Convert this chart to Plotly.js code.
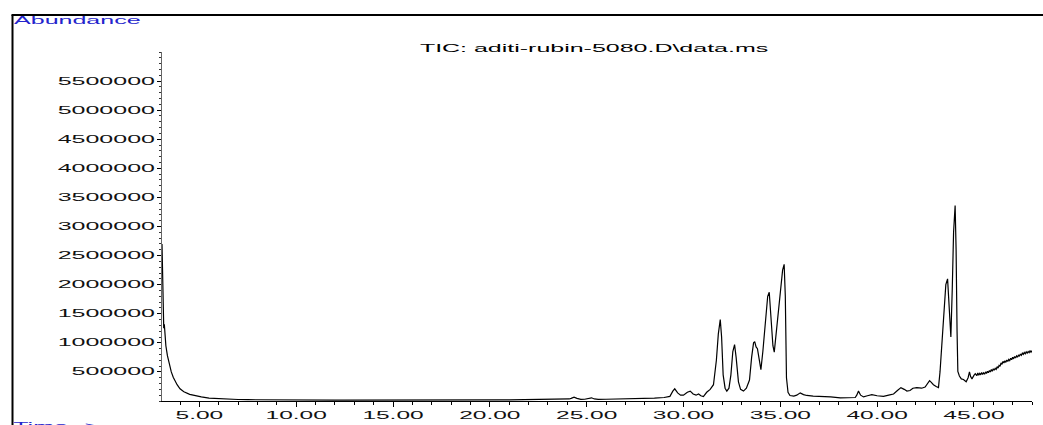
<!DOCTYPE html>
<html>
<head>
<meta charset="utf-8">
<script src="https://cdn.plot.ly/plotly-3.0.1.min.js"></script>
<style>
  html, body { margin: 0; padding: 0; background: #fff; }
  #chart { width: 1043px; height: 425px; }
</style>
</head>
<body>
<div id="chart"></div>
<script>
// Total ion chromatogram: retention time (min) and abundance (counts)
const retentionTime = [
  3.07, 3.10, 3.13, 3.16, 3.19, 3.22, 3.27, 3.35, 3.45, 3.55, 3.65, 3.75, 3.85, 4.00, 4.20, 4.50, 4.80, 5.10, 5.50, 6.00, 6.60,
  7.0, 7.5, 8.0, 8.5, 9.0, 9.5, 10.0, 10.5, 11.0, 11.5, 12.0, 12.5, 13.0, 13.5, 14.0, 14.5, 15.0, 15.5, 16.0, 16.5, 17.0, 17.5,
  18.0, 18.5, 19.0, 19.5, 19.8, 20.0, 20.2, 20.5, 21.0, 21.5, 22.0, 22.5, 23.0, 23.5, 23.9,
  24.1, 24.2, 24.35, 24.5, 24.7, 24.9, 25.1, 25.25, 25.4, 25.6, 26.0, 26.5, 27.0, 27.5, 28.0, 28.5, 29.0, 29.3,
  29.45, 29.55, 29.7, 29.85, 30.0, 30.2, 30.35, 30.5, 30.65, 30.78, 30.9, 31.03, 31.2, 31.38, 31.55, 31.7, 31.8,
  31.9, 31.97, 32.05, 32.15, 32.24, 32.35, 32.45, 32.55, 32.64, 32.72, 32.84, 32.95, 33.1, 33.25, 33.41, 33.52,
  33.62, 33.68, 33.75, 33.82, 33.92, 34.0, 34.1, 34.22, 34.35, 34.43, 34.52, 34.62, 34.69, 34.8, 34.91, 35.02,
  35.12, 35.2, 35.26, 35.32, 35.4, 35.5, 35.7, 35.85, 36.03, 36.2, 36.37, 36.7, 37.0, 37.2, 37.6, 38.1, 38.5,
  38.87, 38.95, 39.04, 39.15, 39.3, 39.5, 39.73, 40.0, 40.33, 40.6, 40.85, 41.05, 41.23, 41.4, 41.54, 41.7,
  41.85, 42.05, 42.3, 42.48, 42.6, 42.71, 42.8, 42.91, 43.05, 43.17, 43.25, 43.35, 43.45, 43.55, 43.64, 43.7,
  43.77, 43.81, 43.88, 43.95, 44.03, 44.08, 44.13, 44.17, 44.25, 44.35, 44.46, 44.6, 44.7, 44.77, 44.83, 44.9,
  45.0, 45.07, 45.15, 45.2, 45.25, 45.3, 45.35, 45.4, 45.45, 45.5, 45.55, 45.6, 45.65, 45.7, 45.75, 45.8, 45.85,
  45.9, 45.95, 46.0, 46.05, 46.1, 46.15, 46.2, 46.25, 46.3, 46.35, 46.4, 46.45, 46.5, 46.55, 46.6, 46.65, 46.7,
  46.75, 46.8, 46.85, 46.9, 46.95, 47.0, 47.05, 47.1, 47.15, 47.2, 47.25, 47.3, 47.35, 47.4, 47.45, 47.5, 47.55,
  47.6, 47.65, 47.7, 47.75, 47.8, 47.85, 47.9, 47.95, 48.0
];
const abundance = [
  2700000, 2050000, 1550000, 1250000, 1320000, 1100000, 950000, 780000, 620000, 500000, 410000, 340000, 280000, 210000, 160000, 115000, 90000, 70000, 50000, 38000, 30000,
  26000, 22000, 20000, 18000, 19000, 17000, 18000, 16000, 17000, 15000, 16000, 15000, 16000, 14000, 15000, 16000, 14000, 15000, 16000, 14000, 15000, 16000,
  15000, 17000, 16000, 18000, 22000, 28000, 24000, 19000, 18000, 19000, 20000, 19000, 21000, 22000, 24000,
  35000, 45000, 65000, 45000, 28000, 30000, 50000, 55000, 35000, 28000, 30000, 32000, 35000, 40000, 45000, 50000, 60000, 80000,
  170000, 210000, 140000, 100000, 100000, 150000, 170000, 120000, 100000, 120000, 90000, 75000, 150000, 200000, 280000, 700000, 1150000,
  1400000, 1100000, 450000, 220000, 170000, 220000, 450000, 850000, 970000, 750000, 330000, 200000, 170000, 220000, 360000, 750000,
  1000000, 1020000, 930000, 900000, 650000, 540000, 850000, 1350000, 1800000, 1870000, 1500000, 950000, 840000, 1200000, 1520000, 1900000,
  2250000, 2350000, 1800000, 400000, 150000, 95000, 85000, 100000, 140000, 110000, 95000, 85000, 82000, 80000, 70000, 55000, 55000,
  60000, 100000, 170000, 100000, 70000, 90000, 110000, 90000, 80000, 100000, 120000, 180000, 230000, 200000, 170000, 180000,
  220000, 230000, 220000, 240000, 300000, 350000, 320000, 280000, 250000, 230000, 500000, 1060000, 1600000, 2000000, 2100000, 1800000,
  1300000, 1100000, 1900000, 2900000, 3360000, 2600000, 1200000, 510000, 430000, 380000, 370000, 330000, 400000, 500000, 420000, 380000,
  440000, 470000, 435000, 480000, 445000, 475000, 450000, 490000, 455000, 485000, 460000, 500000, 475000, 510000, 485000, 525000, 500000,
  540000, 512000, 555000, 528000, 562000, 545000, 590000, 565000, 612000, 595000, 655000, 630000, 680000, 655000, 690000, 665000, 705000,
  680000, 715000, 695000, 735000, 710000, 752000, 725000, 765000, 740000, 775000, 752000, 792000, 768000, 808000, 785000, 822000, 800000,
  835000, 812000, 845000, 822000, 852000, 832000, 862000, 840000, 865000
];
const yTickValues = [500000, 1000000, 1500000, 2000000, 2500000, 3000000, 3500000, 4000000, 4500000, 5000000, 5500000];
const xTickValues = [5, 10, 15, 20, 25, 30, 35, 40, 45];
const chartTitle = 'TIC: aditi-rubin-5080.D\\data.ms';

const labelBlue = '#2424cc';
const font = { family: 'Liberation Sans, Arial, sans-serif', size: 10, color: '#111' };

const trace = {
  x: retentionTime,
  y: abundance,
  type: 'scatter',
  mode: 'lines',
  line: { color: '#000', width: 1.2 },
  hoverinfo: 'skip'
};

const layout = {
  width: 1043,
  height: 425,
  margin: { l: 162, r: 11, t: 52, b: 24, pad: 0 },
  paper_bgcolor: '#fff',
  plot_bgcolor: '#fff',
  showlegend: false,
  font: font,
  title: {
    text: chartTitle,
    font: { family: font.family, size: 11, color: '#000' },
    x: 0.4966, xref: 'paper', xanchor: 'center',
    y: 1 - 48 / 425, yref: 'container', yanchor: 'middle'
  },
  xaxis: {
    range: [3.07, 48.0],
    tickvals: xTickValues,
    tickformat: '.2f',
    ticks: 'outside', ticklen: 5, tickwidth: 1, tickcolor: '#000',
    showline: true, linecolor: '#000', linewidth: 1,
    showgrid: false, zeroline: false,
    tickfont: font,
    minor: { dtick: 1, ticks: 'outside', ticklen: 3, tickcolor: '#000', tickwidth: 1, showgrid: false }
  },
  yaxis: {
    range: [0, 6000000],
    tickvals: yTickValues,
    tickformat: 'd',
    ticks: 'outside', ticklen: 4, tickwidth: 1, tickcolor: '#000',
    showline: true, linecolor: '#666', linewidth: 1,
    showgrid: false, zeroline: false,
    tickfont: font,
    minor: { dtick: 100000, ticks: 'outside', ticklen: 2, tickcolor: '#333', tickwidth: 1, showgrid: false }
  },
  annotations: [
    {
      text: 'Abundance', xref: 'paper', yref: 'paper',
      x: (77 - 162) / 870, y: (401 - 20.5) / 349,
      xanchor: 'center', yanchor: 'middle', showarrow: false,
      font: { family: font.family, size: 10, color: labelBlue }
    },
    {
      text: 'Time-->', xref: 'paper', yref: 'paper',
      x: (56 - 162) / 870, y: (401 - 426) / 349,
      xanchor: 'center', yanchor: 'middle', showarrow: false,
      font: { family: font.family, size: 10, color: labelBlue }
    }
  ],
  shapes: [
    // frame around the printout: left and top edges
    { type: 'line', xref: 'paper', yref: 'paper', x0: (12.5 - 162) / 870, x1: (12.5 - 162) / 870,
      y0: -0.2, y1: (401 - 15) / 349, line: { color: '#000', width: 2 } },
    { type: 'line', xref: 'paper', yref: 'paper', x0: (11.5 - 162) / 870, x1: 1.05,
      y0: (401 - 15) / 349, y1: (401 - 15) / 349, line: { color: '#000', width: 2 } }
  ]
};

Plotly.newPlot('chart', [trace], layout, { staticPlot: true, displayModeBar: false }).then(gd => {
  // wide printer-style lettering: widen each label horizontally
  const widen = (selector, k) => {
    gd.querySelectorAll(selector).forEach(t => {
      const w = t.getComputedTextLength();
      if (w > 0) {
        t.setAttribute('textLength', (w * k).toFixed(1));
        t.setAttribute('lengthAdjust', 'spacingAndGlyphs');
      }
    });
  };
  widen('.xtick text', 2.45);
  widen('.ytick text', 2.5);
  widen('text.gtitle', 2.27);
  widen('text.annotation-text', 2.5);
});
</script>
</body>
</html>
